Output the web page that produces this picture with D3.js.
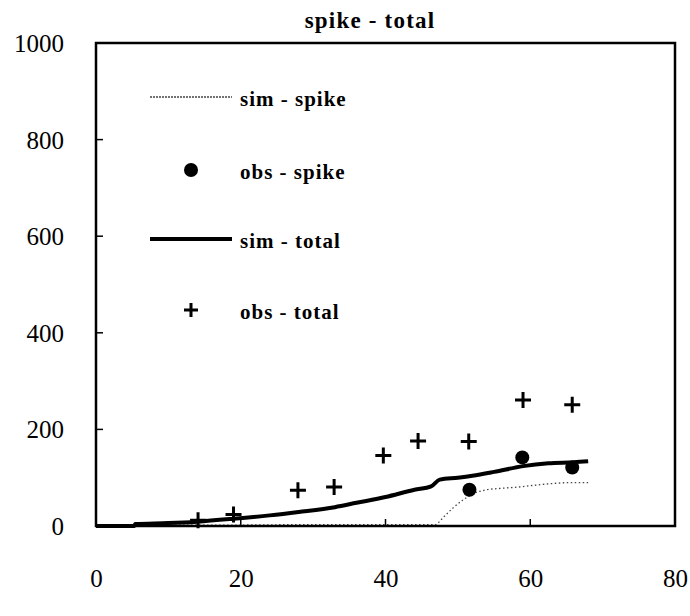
<!DOCTYPE html>
<html>
<head>
<meta charset="utf-8">
<script src="https://cdn.jsdelivr.net/npm/d3@7"></script>
<style>
  html, body { margin: 0; padding: 0; background: #fff; }
  svg { display: block; }
</style>
</head>
<body>
<svg id="chart" width="690" height="616"></svg>
<script>
// Simulated spike concentration (dotted line)
const simSpikeX = [5.4, 14, 20, 30, 40, 47, 47.5, 48, 49.3, 50.7, 52.3, 54, 56, 58.6, 61, 63.1, 66, 68];
const simSpikeY = [0, 2, 2, 3, 3, 3, 10, 18, 37, 54, 68, 75, 78, 81, 85, 88, 90, 90];

// Simulated total concentration (bold line)
const simTotalX = [0, 5.3, 5.4, 10, 14, 19, 24, 28, 33, 36, 40, 44, 46.3, 47.5, 50, 52, 55, 59, 62.5, 66, 68];
const simTotalY = [0, 0, 4, 6, 9, 15, 22, 29, 39, 48, 60, 75, 82, 96, 100, 104, 112, 124, 130, 132, 134];

// Observed spike (filled circles)
const obsSpikeX = [51.6, 58.9, 65.8];
const obsSpikeY = [75, 142, 121];

// Observed total (plus signs)
const obsTotalX = [14.1, 19.0, 27.9, 32.9, 39.7, 44.5, 51.5, 59.0, 65.8];
const obsTotalY = [12, 24, 74, 81, 146, 176, 175, 261, 251];

const xTicks = [0, 20, 40, 60, 80];
const yTicks = [0, 200, 400, 600, 800, 1000];

const legendLabels = ["sim - spike", "obs - spike", "sim - total", "obs - total"];
const chartTitle = "spike - total";

const SERIF = "'Liberation Serif', 'Times New Roman', Times, 'DejaVu Serif', serif";

const svg = d3.select("#chart");
const L = 96, R = 675, T = 43, B = 526;

const x = d3.scaleLinear().domain([0, 80]).range([L, R]);
const y = d3.scaleLinear().domain([0, 1000]).range([B, T]);

svg.append("rect").attr("width", 690).attr("height", 616).attr("fill", "#fff");

// Title
svg.append("text")
  .attr("x", 370).attr("y", 28)
  .attr("text-anchor", "middle")
  .style("font-family", SERIF)
  .style("font-size", "23px").style("font-weight", "bold")
  .style("letter-spacing", "1.2px")
  .attr("fill", "#000")
  .text(chartTitle);

// Y tick labels
const yAxis = d3.axisLeft(y).tickValues(yTicks).tickSize(0).tickPadding(0).tickFormat(d3.format("d"));
const gy = svg.append("g").attr("transform", `translate(${L - 32},0)`).call(yAxis);
gy.select(".domain").remove();
gy.selectAll("text")
  .style("font-family", SERIF).style("font-size", "25px")
  .attr("fill", "#000").attr("dy", "0.34em");

// X tick labels
const xAxis = d3.axisBottom(x).tickValues(xTicks).tickSize(0).tickPadding(0).tickFormat(d3.format("d"));
const gx = svg.append("g").attr("transform", `translate(0,${B + 43})`).call(xAxis);
gx.select(".domain").remove();
gx.selectAll("text")
  .style("font-family", SERIF).style("font-size", "25px")
  .attr("fill", "#000").attr("dy", "0.7em");

// Inner tick marks
svg.append("g").selectAll("line").data(xTicks.slice(1, -1)).join("line")
  .attr("x1", d => x(d)).attr("x2", d => x(d))
  .attr("y1", B).attr("y2", B - 7)
  .attr("stroke", "#000").attr("stroke-width", 1.5);
svg.append("g").selectAll("line").data(yTicks.slice(1, -1)).join("line")
  .attr("x1", L).attr("x2", L + 7)
  .attr("y1", d => y(d)).attr("y2", d => y(d))
  .attr("stroke", "#000").attr("stroke-width", 1.5);

// Lines
const simSpike = simSpikeX.map((v, i) => [v, simSpikeY[i]]);
const simTotal = simTotalX.map((v, i) => [v, simTotalY[i]]);
const line = d3.line().x(d => x(d[0])).y(d => y(d[1])).curve(d3.curveMonotoneX);

svg.append("path").datum(simSpike)
  .attr("d", line)
  .attr("fill", "none").attr("stroke", "#444")
  .attr("stroke-width", 1.3).attr("stroke-dasharray", "1.5,2.5");

svg.append("path").datum(simTotal)
  .attr("d", line)
  .attr("fill", "none").attr("stroke", "#000")
  .attr("stroke-width", 4);

// Observed spike dots
svg.append("g").selectAll("circle")
  .data(obsSpikeX.map((v, i) => [v, obsSpikeY[i]])).join("circle")
  .attr("cx", d => x(d[0])).attr("cy", d => y(d[1])).attr("r", 7)
  .attr("fill", "#000");

// Observed total plus signs
const plus = s => `M${-s},0H${s}M0,${-s}V${s}`;
svg.append("g").selectAll("path")
  .data(obsTotalX.map((v, i) => [v, obsTotalY[i]])).join("path")
  .attr("transform", d => `translate(${x(d[0])},${y(d[1])})`)
  .attr("d", plus(8))
  .attr("stroke", "#000").attr("stroke-width", 3).attr("fill", "none");

// Frame
svg.append("rect")
  .attr("x", L).attr("y", T).attr("width", R - L).attr("height", B - T)
  .attr("fill", "none").attr("stroke", "#000").attr("stroke-width", 2.5);

// Legend
const leg = svg.append("g");
const legX0 = 150, legX1 = 232, legSym = 191, legText = 240;
const legY = [97, 170, 239, 310];

leg.append("line").attr("x1", legX0).attr("x2", legX1).attr("y1", legY[0]).attr("y2", legY[0])
  .attr("stroke", "#444").attr("stroke-width", 1.5).attr("stroke-dasharray", "2,1");
leg.append("circle").attr("cx", legSym).attr("cy", legY[1]).attr("r", 7).attr("fill", "#000");
leg.append("line").attr("x1", legX0).attr("x2", legX1).attr("y1", legY[2]).attr("y2", legY[2])
  .attr("stroke", "#000").attr("stroke-width", 4);
leg.append("path").attr("transform", `translate(${legSym},${legY[3]})`).attr("d", plus(7))
  .attr("stroke", "#000").attr("stroke-width", 3);

leg.selectAll("text").data(legendLabels).join("text")
  .attr("x", legText).attr("y", (d, i) => legY[i] + 9)
  .style("font-family", SERIF)
  .style("font-size", "21px").style("font-weight", "bold").style("letter-spacing", "1px")
  .attr("fill", "#000")
  .text(d => d);
</script>
</body>
</html>
